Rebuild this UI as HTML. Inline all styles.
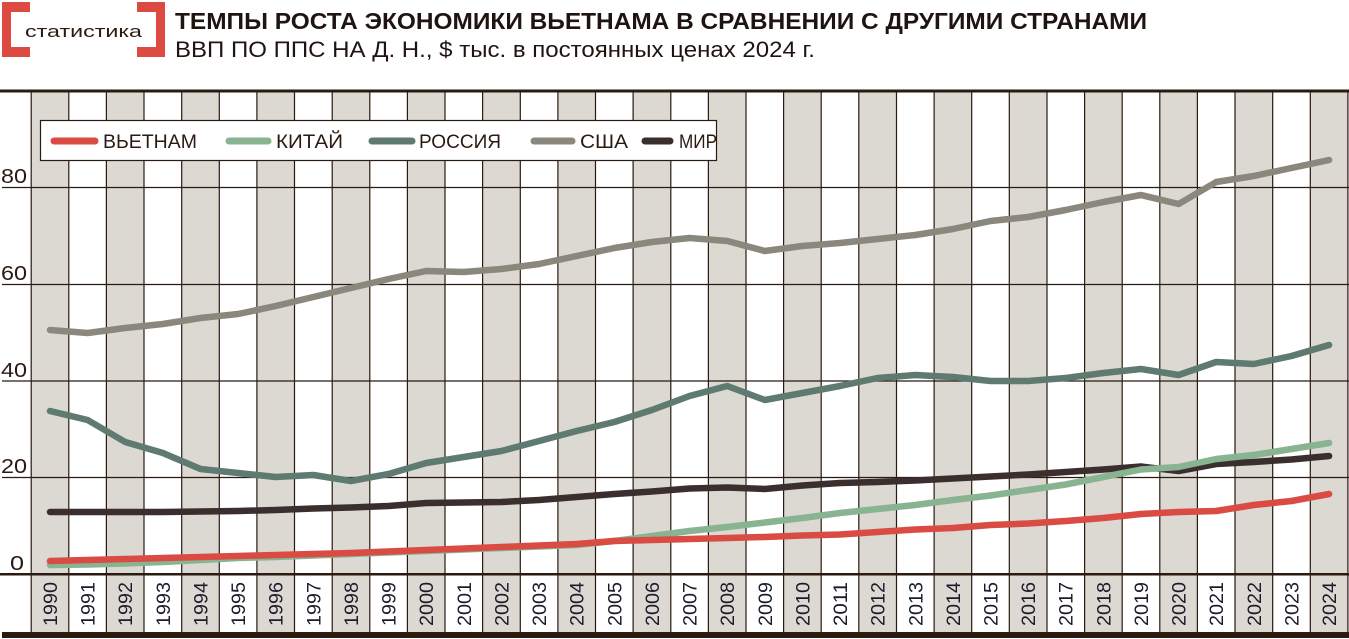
<!DOCTYPE html>
<html><head><meta charset="utf-8"><style>
body{margin:0;background:#fff;width:1349px;height:639px;overflow:hidden;font-family:"Liberation Sans","DejaVu Sans",sans-serif}
</style></head><body>
<svg width="1349" height="639" xmlns="http://www.w3.org/2000/svg" style="position:absolute;left:0;top:0">
<g fill="#dc4a42">
<rect x="2" y="2" width="9" height="55"/><rect x="2" y="2" width="28" height="10"/><rect x="2" y="47" width="28" height="10"/>
<rect x="156" y="2" width="9" height="55"/><rect x="137" y="2" width="28" height="10"/><rect x="137" y="47" width="28" height="10"/>
</g>
<text x="25" y="37" font-size="17" fill="#2a1a12" textLength="117" lengthAdjust="spacingAndGlyphs">статистика</text>
<text x="175" y="29" font-size="23" font-weight="bold" fill="#1f1410" textLength="972" lengthAdjust="spacingAndGlyphs">ТЕМПЫ РОСТА ЭКОНОМИКИ ВЬЕТНАМА В СРАВНЕНИИ С ДРУГИМИ СТРАНАМИ</text>
<text x="175" y="57" font-size="22" fill="#1f1410" textLength="640" lengthAdjust="spacingAndGlyphs">ВВП ПО ППС НА Д. Н., $ тыс. в постоянных ценах 2024 г.</text>
<g fill="#dcd8d2">
<rect x="31.2" y="92" width="37.6" height="540"/><rect x="106.4" y="92" width="37.6" height="540"/><rect x="181.7" y="92" width="37.6" height="540"/><rect x="256.9" y="92" width="37.6" height="540"/><rect x="332.2" y="92" width="37.6" height="540"/><rect x="407.4" y="92" width="37.6" height="540"/><rect x="482.6" y="92" width="37.6" height="540"/><rect x="557.9" y="92" width="37.6" height="540"/><rect x="633.1" y="92" width="37.6" height="540"/><rect x="708.4" y="92" width="37.6" height="540"/><rect x="783.6" y="92" width="37.6" height="540"/><rect x="858.8" y="92" width="37.6" height="540"/><rect x="934.1" y="92" width="37.6" height="540"/><rect x="1009.3" y="92" width="37.6" height="540"/><rect x="1084.6" y="92" width="37.6" height="540"/><rect x="1159.8" y="92" width="37.6" height="540"/><rect x="1235" y="92" width="37.6" height="540"/><rect x="1310.3" y="92" width="37.6" height="540"/>
</g>
<g stroke="#2a1a10" stroke-width="1.2">
<path d="M31.2 92V632M68.8 92V632M106.4 92V632M144 92V632M181.7 92V632M219.3 92V632M256.9 92V632M294.5 92V632M332.2 92V632M369.8 92V632M407.4 92V632M445 92V632M482.6 92V632M520.3 92V632M557.9 92V632M595.5 92V632M633.1 92V632M670.8 92V632M708.4 92V632M746 92V632M783.6 92V632M821.2 92V632M858.8 92V632M896.5 92V632M934.1 92V632M971.7 92V632M1009.3 92V632M1047 92V632M1084.6 92V632M1122.2 92V632M1159.8 92V632M1197.4 92V632M1235 92V632M1272.7 92V632M1310.3 92V632M1347.9 92V632"/>
<path d="M2 187.5H1349M2 284.5H1349M2 381H1349M2 477.5H1349"/>
</g>
<rect x="0" y="89.5" width="1349" height="3" fill="#2a1a10"/>
<rect x="0" y="573" width="1349" height="2.5" fill="#2a1a10"/>
<rect x="2" y="632" width="1347" height="6" fill="#2a1a10"/>
<g font-size="20" fill="#2a1a12">
<text x="1" y="183" textLength="26" lengthAdjust="spacingAndGlyphs">80</text><text x="1" y="280" textLength="26" lengthAdjust="spacingAndGlyphs">60</text><text x="1" y="377" textLength="26" lengthAdjust="spacingAndGlyphs">40</text><text x="1" y="473" textLength="26" lengthAdjust="spacingAndGlyphs">20</text><text x="10" y="570" textLength="14" lengthAdjust="spacingAndGlyphs">0</text>
</g>
<g font-size="19" fill="#1f1a2a" id="yrs"></g>
<g fill="none" stroke-width="6.5" stroke-linecap="round" stroke-linejoin="round">
<polyline stroke="#8a877d" points="50,330 87.6,333 125.2,328 162.9,324 200.5,318 238.1,314 275.7,306 313.3,297 351,288 388.6,279 426.2,271 463.8,272 501.4,269 539.1,264 576.7,256 614.3,248 651.9,242 689.5,238 727.2,241 764.8,251 802.4,246 840,243 877.6,239 915.3,235 952.9,229 990.5,221 1028.1,217 1065.7,210 1103.4,202 1141,195 1178.6,204 1216.2,182 1253.8,176 1291.5,168 1329.1,160"/>
<polyline stroke="#5f7a70" points="50,411 87.6,420 125.2,442 162.9,453 200.5,469 238.1,473 275.7,477 313.3,475 351,481 388.6,474 426.2,463 463.8,457 501.4,451 539.1,441 576.7,431 614.3,422 651.9,410 689.5,396 727.2,386 764.8,400 802.4,393 840,386 877.6,378 915.3,375 952.9,377 990.5,381 1028.1,381 1065.7,378 1103.4,373 1141,369 1178.6,375 1216.2,362 1253.8,364 1291.5,356 1329.1,345"/>
<polyline stroke="#3a2f2e" points="50,512 87.6,512 125.2,512 162.9,512 200.5,511.5 238.1,511 275.7,510 313.3,508.5 351,507.5 388.6,506 426.2,503 463.8,502.5 501.4,502 539.1,500 576.7,497 614.3,494 651.9,491.5 689.5,488.5 727.2,487.5 764.8,489 802.4,485.5 840,483 877.6,482 915.3,480.5 952.9,478.5 990.5,476.5 1028.1,474.5 1065.7,472 1103.4,469.5 1141,466.5 1178.6,471 1216.2,464 1253.8,462 1291.5,459.5 1329.1,456"/>
<polyline stroke="#88b491" points="50,565 87.6,564.5 125.2,563.5 162.9,562 200.5,560 238.1,558 275.7,557 313.3,555.5 351,554 388.6,552.5 426.2,551 463.8,549.5 501.4,548 539.1,546.5 576.7,545 614.3,541 651.9,536 689.5,531 727.2,527 764.8,522.5 802.4,518 840,513 877.6,509 915.3,505 952.9,500 990.5,495.5 1028.1,490 1065.7,484.5 1103.4,477 1141,469.5 1178.6,467 1216.2,459 1253.8,455 1291.5,449 1329.1,443"/>
<polyline stroke="#d94b43" points="50,561 87.6,560 125.2,559 162.9,558 200.5,557 238.1,556 275.7,555 313.3,554 351,553 388.6,551.5 426.2,550 463.8,548.5 501.4,547 539.1,545.5 576.7,544 614.3,541 651.9,540 689.5,539 727.2,538 764.8,537 802.4,535.5 840,534.5 877.6,532 915.3,529.5 952.9,528 990.5,525 1028.1,523.5 1065.7,521 1103.4,518 1141,514 1178.6,512 1216.2,511 1253.8,505 1291.5,501 1329.1,494"/>
</g>
<rect x="40.5" y="120.5" width="676" height="40" fill="#fff" stroke="#2a1a10" stroke-width="1.2"/>
<g stroke-width="7" stroke-linecap="round">
<line x1="54" y1="141" x2="95" y2="141" stroke="#d94b43"/>
<line x1="229" y1="141" x2="268" y2="141" stroke="#88b491"/>
<line x1="372" y1="141" x2="412" y2="141" stroke="#5f7a70"/>
<line x1="534" y1="141" x2="572" y2="141" stroke="#8a877d"/>
<line x1="645" y1="141" x2="670" y2="141" stroke="#3a2f2e"/>
</g>
<g font-size="19" fill="#2a1a12">
<text x="103" y="148" textLength="94" lengthAdjust="spacingAndGlyphs">ВЬЕТНАМ</text>
<text x="276" y="148" textLength="67" lengthAdjust="spacingAndGlyphs">КИТАЙ</text>
<text x="419" y="148" textLength="82" lengthAdjust="spacingAndGlyphs">РОССИЯ</text>
<text x="580" y="148" textLength="48" lengthAdjust="spacingAndGlyphs">США</text>
<text x="679" y="148" textLength="38" lengthAdjust="spacingAndGlyphs">МИР</text>
</g>
</svg>
<script>
var g=document.getElementById('yrs'),s='';
for(var i=0;i<35;i++){var x=50+37.62*i+7;s+='<text transform="translate('+x.toFixed(1)+',626) rotate(-90)" textLength="44" lengthAdjust="spacingAndGlyphs">'+(1990+i)+'</text>';}
g.innerHTML=s;
</script>
</body></html>
